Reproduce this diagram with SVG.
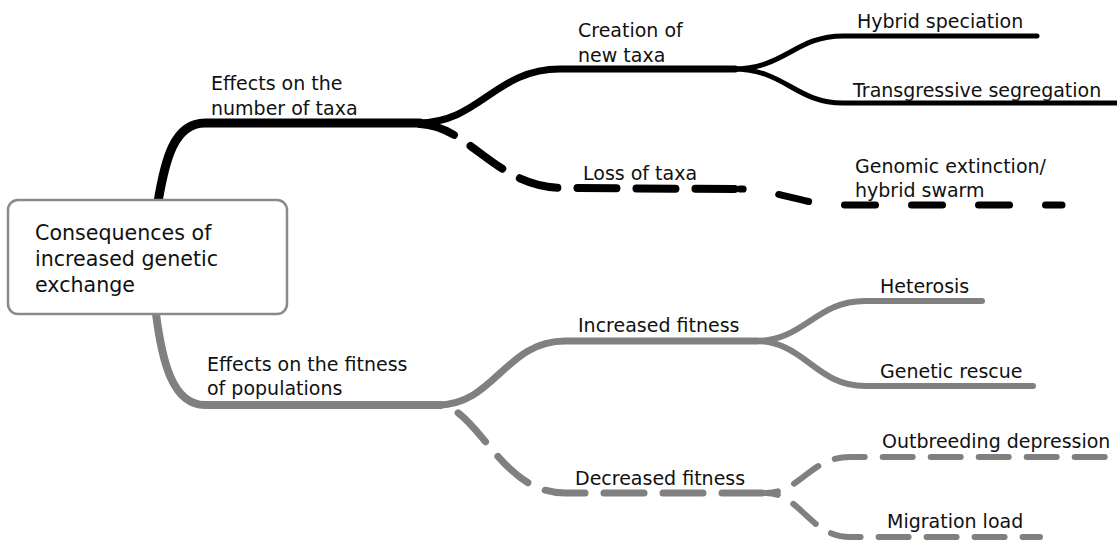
<svg xmlns="http://www.w3.org/2000/svg" width="1117" height="540" viewBox="0 0 1117 540">
  <style>
    .lbl { font-family: "DejaVu Sans", "Liberation Sans", sans-serif; font-size: 19px; fill: #111; }
    .main { font-family: "DejaVu Sans", "Liberation Sans", sans-serif; font-size: 20.6px; fill: #111; }
    .c { fill: none; stroke-linecap: round; stroke-linejoin: round; }
    .k { stroke: #000; }
    .g { stroke: #808080; }
  </style>
  <rect width="1117" height="540" fill="#fff"/>
  <g id="connectors">
    <!-- black: number of taxa -->
    <path class="c k" stroke-width="9" d="M158,202 C165,160 174,123 205,123 L420,123"/>
    <path class="c k" stroke-width="7" d="M418,123 C480,123 495,69 560,69 L735,69"/>
    <path class="c k" stroke-width="5" d="M733,69 C785,69 795,36 843,36 L1037,36"/>
    <path class="c k" stroke-width="5" d="M733,69 C785,69 795,103 843,103 L1120,103"/>
    <path class="c k" stroke-width="8" stroke-dasharray="39 20" stroke-dashoffset="3" d="M420,124 C470,126 495,188 565,188 L740,189"/>
    <path class="c k" stroke-width="7" stroke-dasharray="31 36" stroke-dashoffset="28" d="M740,189 C780,190 800,205 845,205 L1062,205"/>
    <!-- gray: fitness of populations -->
    <path class="c g" stroke-width="8" d="M156,314 C162,360 172,405 205,405 L440,405"/>
    <path class="c g" stroke-width="7" d="M437,405 C495,405 505,341 565,341 L757,341"/>
    <path class="c g" stroke-width="6" d="M755,341 C805,341 815,301 865,301 L982,301"/>
    <path class="c g" stroke-width="6" d="M755,341 C805,341 815,386 865,386 L1033,386"/>
    <path class="c g" stroke-width="7" stroke-dasharray="40 19" stroke-dashoffset="-20" d="M440,405 C480,410 500,493 565,493 L768,493"/>
    <path class="c g" stroke-width="6" stroke-dasharray="30 18" stroke-dashoffset="-30" d="M766,493 C800,493 810,457 850,457 L1120,457"/>
    <path class="c g" stroke-width="6" stroke-dasharray="30 18" stroke-dashoffset="-30" d="M766,493 C800,493 810,537 850,537 L1040,537"/>
  </g>
  <g id="node-root">
    <rect x="8" y="200" width="279" height="114" rx="10" ry="10" fill="#fff" stroke="#8a8a8a" stroke-width="2.5"/>
    <text class="main" x="35" y="240">Consequences of</text>
    <text class="main" x="35" y="266">increased genetic</text>
    <text class="main" x="35" y="292">exchange</text>
  </g>
  <g id="node-number-of-taxa">
    <text class="lbl" x="211" y="90">Effects on the</text>
    <text class="lbl" x="211" y="115">number of taxa</text>
  </g>
  <g id="node-creation">
    <text class="lbl" x="578" y="37">Creation of</text>
    <text class="lbl" x="578" y="62">new taxa</text>
  </g>
  <g id="node-hybrid-speciation">
    <text class="lbl" x="857" y="28">Hybrid speciation</text>
  </g>
  <g id="node-transgressive">
    <text class="lbl" x="853" y="97">Transgressive segregation</text>
  </g>
  <g id="node-loss">
    <text class="lbl" x="583" y="180">Loss of taxa</text>
  </g>
  <g id="node-genomic-extinction">
    <text class="lbl" x="855" y="173">Genomic extinction/</text>
    <text class="lbl" x="855" y="197">hybrid swarm</text>
  </g>
  <g id="node-fitness">
    <text class="lbl" x="207" y="371">Effects on the fitness</text>
    <text class="lbl" x="207" y="395">of populations</text>
  </g>
  <g id="node-increased">
    <text class="lbl" x="578" y="332">Increased fitness</text>
  </g>
  <g id="node-heterosis">
    <text class="lbl" x="880" y="293">Heterosis</text>
  </g>
  <g id="node-genetic-rescue">
    <text class="lbl" x="880" y="378">Genetic rescue</text>
  </g>
  <g id="node-decreased">
    <text class="lbl" x="575" y="485">Decreased fitness</text>
  </g>
  <g id="node-outbreeding">
    <text class="lbl" x="882" y="448">Outbreeding depression</text>
  </g>
  <g id="node-migration">
    <text class="lbl" x="887" y="528">Migration load</text>
  </g>
</svg>
